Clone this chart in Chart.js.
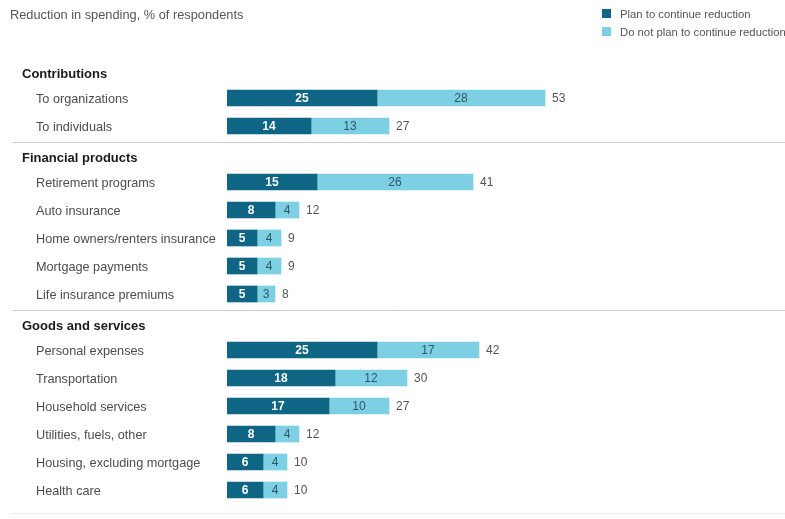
<!DOCTYPE html>
<html>
<head>
<meta charset="utf-8">
<script src="https://cdn.jsdelivr.net/npm/chart.js@4.4.0/dist/chart.umd.min.js"></script>
<style>
  html, body { margin: 0; padding: 0; background: #fff; }
  #wrap { width: 785px; height: 519px; }
</style>
</head>
<body>
<div id="wrap"><canvas id="spendChart" width="785" height="519"></canvas></div>
<script>
// Rows, top to bottom; group headings sit in their own row with no bar
const rowLabels = [
    'Contributions', 'To organizations', 'To individuals',
    'Financial products', 'Retirement programs', 'Auto insurance',
    'Home owners/renters insurance', 'Mortgage payments', 'Life insurance premiums',
    'Goods and services', 'Personal expenses', 'Transportation', 'Household services',
    'Utilities, fuels, other', 'Housing, excluding mortgage', 'Health care'
];
const headerRows = [0, 3, 9];

const planToContinue = [null, 25, 14, null, 15, 8, 5, 5, 5, null, 25, 18, 17, 8, 6, 6];
const doNotPlan      = [null, 28, 13, null, 26, 4, 4, 4, 3, null, 17, 12, 10, 4, 4, 4];

const seriesNames = ['Plan to continue reduction', 'Do not plan to continue reduction'];
const chartTitle = 'Reduction in spending, % of respondents';

const DARK = '#0f6584';
const LIGHT = '#7dcfe4';
const FONT = '"Liberation Sans", Arial, sans-serif';

// Labels, headings, separators, legend and value numbers
const overlay = {
    id: 'overlay',
    afterDatasetsDraw(chart) {
        const ctx = chart.ctx;
        const yScale = chart.scales.y;
        ctx.save();
        ctx.textBaseline = 'middle';

        // title
        ctx.fillStyle = '#555';
        ctx.font = '12.8px ' + FONT;
        ctx.textAlign = 'left';
        ctx.fillText(chartTitle, 10, 15);

        // legend
        const colors = [DARK, LIGHT];
        seriesNames.forEach((name, i) => {
            const ly = 14 + i * 18;
            ctx.fillStyle = colors[i];
            ctx.fillRect(602, ly - 5, 9, 9);
            ctx.fillStyle = '#555';
            ctx.font = '11.3px ' + FONT;
            ctx.fillText(name, 620, ly + 1);
        });

        // row labels and group separators
        rowLabels.forEach((label, i) => {
            const y = yScale.getPixelForValue(i);
            if (headerRows.includes(i)) {
                ctx.fillStyle = '#1a1a1a';
                ctx.font = 'bold 13px ' + FONT;
                ctx.fillText(label, 22, y + 4);
                if (i > 0) {
                    ctx.strokeStyle = '#cfcfcf';
                    ctx.lineWidth = 1;
                    ctx.beginPath();
                    ctx.moveTo(12, Math.round(y - 12) + 0.5);
                    ctx.lineTo(785, Math.round(y - 12) + 0.5);
                    ctx.stroke();
                }
            } else {
                ctx.fillStyle = '#4d4d4d';
                ctx.font = '12.7px ' + FONT;
                ctx.fillText(label, 36, y + 1);
            }
        });

        // faint bottom rule
        ctx.strokeStyle = '#ececec';
        ctx.beginPath();
        ctx.moveTo(12, 513.5);
        ctx.lineTo(785, 513.5);
        ctx.stroke();

        // numbers inside segments
        ctx.textAlign = 'center';
        chart.data.datasets.forEach((ds, di) => {
            const meta = chart.getDatasetMeta(di);
            meta.data.forEach((bar, i) => {
                const v = ds.data[i];
                if (v == null) return;
                ctx.fillStyle = di === 0 ? '#ffffff' : '#2c5666';
                ctx.font = (di === 0 ? 'bold ' : '') + '12px ' + FONT;
                ctx.fillText(String(v), (bar.x + bar.base) / 2, bar.y + 1);
            });
        });

        // totals after each bar
        ctx.textAlign = 'left';
        ctx.fillStyle = '#555';
        ctx.font = '12px ' + FONT;
        const lastMeta = chart.getDatasetMeta(1);
        lastMeta.data.forEach((bar, i) => {
            if (planToContinue[i] == null) return;
            const total = planToContinue[i] + doNotPlan[i];
            ctx.fillText(String(total), bar.x + 7, bar.y + 1);
        });

        ctx.restore();
    }
};

const ctx = document.getElementById('spendChart').getContext('2d');
const spendChart = new Chart(ctx, {
    type: 'bar',
    data: {
        labels: rowLabels,
        datasets: [
            {
                label: seriesNames[0],
                data: planToContinue,
                backgroundColor: DARK,
                barThickness: 16,
                borderWidth: 0
            },
            {
                label: seriesNames[1],
                data: doNotPlan,
                backgroundColor: LIGHT,
                barThickness: 16,
                borderWidth: 0
            }
        ]
    },
    options: {
        indexAxis: 'y',
        responsive: false,
        animation: false,
        devicePixelRatio: 1,
        layout: {
            padding: { left: 227, right: 198, top: 56, bottom: 15 }
        },
        scales: {
            x: { stacked: true, min: 0, max: 60, display: false },
            y: { stacked: true, display: false }
        },
        plugins: {
            legend: { display: false },
            tooltip: { enabled: false }
        }
    },
    plugins: [overlay]
});
</script>
</body>
</html>
